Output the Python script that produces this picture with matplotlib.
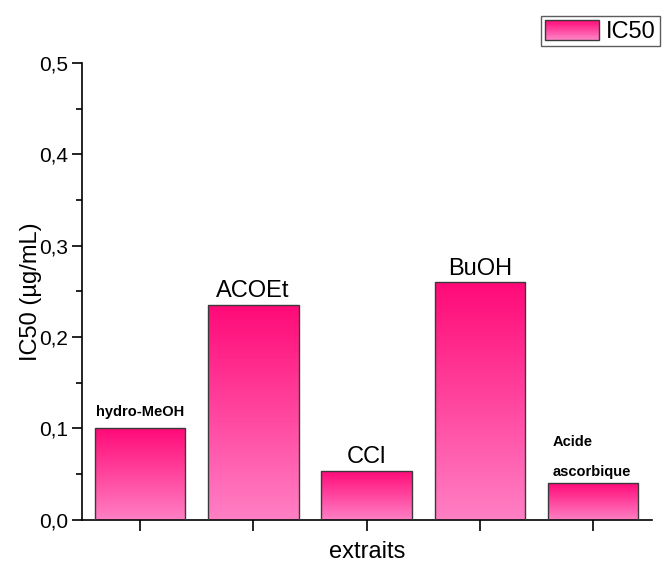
import numpy as np
import matplotlib
matplotlib.use("Agg")
import matplotlib.pyplot as plt
from matplotlib.colors import LinearSegmentedColormap
from matplotlib.patches import Patch, Rectangle
from matplotlib.legend_handler import HandlerBase
from matplotlib.ticker import MultipleLocator, FuncFormatter

plt.rcParams["font.family"] = ["Liberation Sans", "DejaVu Sans"]

extraits = ["hydro-MeOH", "ACOEt", "CCl", "BuOH", "Acide\nascorbique"]
ic50 = [0.10, 0.235, 0.054, 0.26, 0.04]
label_bold = [True, False, False, False, True]

# pink gradient, dark at the top of each bar
pink = LinearSegmentedColormap.from_list("pink", ["#ff80c4", "#ff0a78"])


class HandlerGradient(HandlerBase):
    # legend key drawn as thin stacked strips so it shows the same gradient
    def create_artists(self, legend, orig_handle, xdescent, ydescent,
                       width, height, fontsize, trans):
        n = 24
        arts = []
        for k in range(n):
            r = Rectangle((-xdescent, -ydescent + height * k / n), width, height / n + 0.3,
                          facecolor=pink(k / (n - 1)), edgecolor="none", transform=trans)
            arts.append(r)
        arts.append(Rectangle((-xdescent, -ydescent), width, height, facecolor="none",
                              edgecolor="#3a3a3a", linewidth=1.0, transform=trans))
        return arts


fig = plt.figure(figsize=(6.62, 5.62), dpi=100)
ax = fig.add_axes([0.124, 0.075, 0.861, 0.813])

x = np.arange(len(extraits))
bars = ax.bar(x, ic50, width=0.8, color="none", edgecolor="#3a3a3a", linewidth=1.0, zorder=3)

grad = np.linspace(0, 1, 256).reshape(-1, 1)
for b in bars:
    x0, y0 = b.get_x(), b.get_y()
    w, h = b.get_width(), b.get_height()
    im = ax.imshow(grad, cmap=pink, origin="lower", aspect="auto",
                   extent=[x0, x0 + w, y0, y0 + h], zorder=2)
    im.set_clip_path(b)

# bar labels
for i, (name, v, bold) in enumerate(zip(extraits, ic50, label_bold)):
    if bold and "\n" in name:
        top, bottom = name.split("\n")
        ax.text(i - 0.36, v + 0.045, top, fontsize=10.5, fontweight="bold", ha="left", va="center")
        ax.text(i - 0.36, v + 0.012, bottom, fontsize=10.5, fontweight="bold", ha="left", va="center")
    elif bold:
        ax.text(i, v + 0.0175, name, fontsize=10.5, fontweight="bold", ha="center", va="center")
    else:
        ax.text(i, v + 0.003, name, fontsize=17, ha="center", va="bottom")

ax.set_xlim(-0.51, 4.52)
ax.set_ylim(0, 0.5)
ax.set_xticks(x)
ax.set_xticklabels([])
ax.yaxis.set_major_locator(MultipleLocator(0.1))
ax.yaxis.set_minor_locator(MultipleLocator(0.05))
ax.yaxis.set_major_formatter(FuncFormatter(lambda v, p: f"{v:.1f}".replace(".", ",")))
ax.tick_params(axis="y", which="major", direction="out", length=7, width=1.2, labelsize=15, pad=3)
ax.tick_params(axis="y", which="minor", direction="out", length=4, width=1.2)
ax.tick_params(axis="x", direction="out", length=8, width=1.2)

for s in ["top", "right"]:
    ax.spines[s].set_visible(False)
for s in ["left", "bottom"]:
    ax.spines[s].set_linewidth(1.2)

ax.set_ylabel("IC50 (µg/mL)", fontsize=17, labelpad=-2)
ax.set_xlabel("extraits", fontsize=17, labelpad=4)

handle = Patch(facecolor="#ff3c96", edgecolor="#3a3a3a")
fig.legend([handle], ["IC50"], handler_map={Patch: HandlerGradient()},
           loc="upper right", bbox_to_anchor=(1.0, 0.975),
           fontsize=17, frameon=True, fancybox=False, edgecolor="#333333",
           handlelength=2.3, handleheight=0.9, borderpad=0.15, handletextpad=0.3,
           borderaxespad=0.1)

fig.savefig("out.png", dpi=100)
